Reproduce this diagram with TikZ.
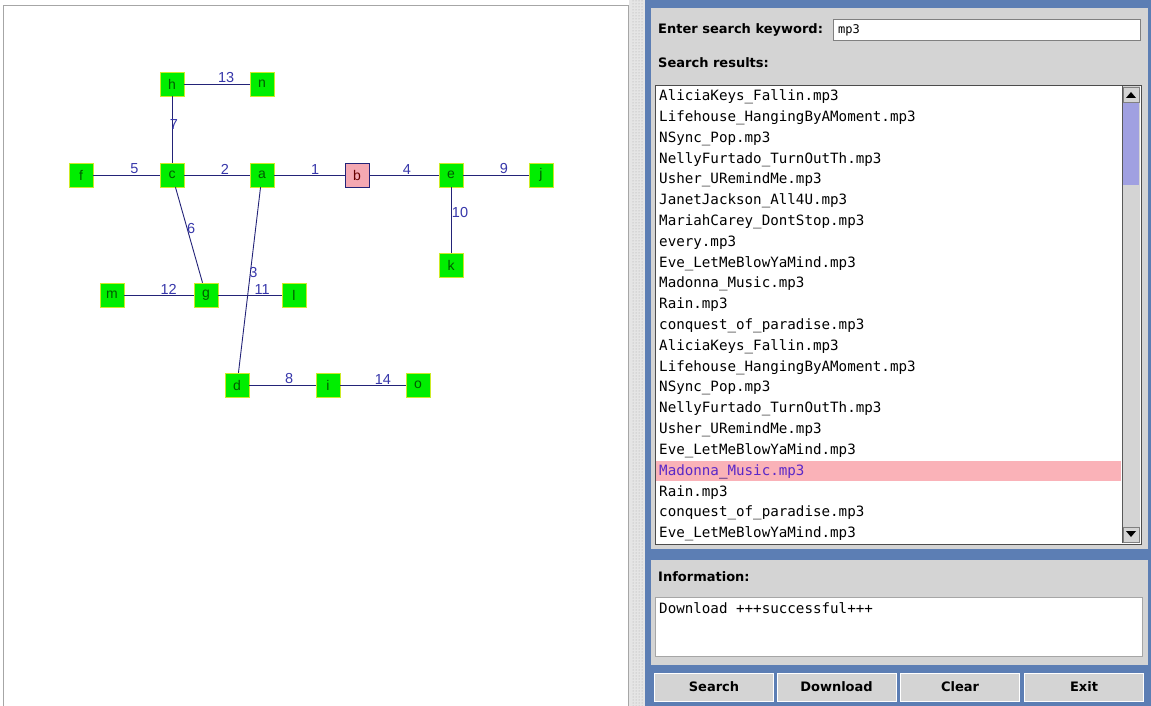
\documentclass[tikz,border=0pt]{standalone}
\usepackage{fontspec}
\setmainfont{DejaVu Sans}
\newfontfamily\listfont{DejaVu Sans Mono}
\newfontfamily\graphfont{Liberation Sans}
\usepackage{tikz}
\usetikzlibrary{positioning, patterns}

\definecolor{swingblue}{RGB}{92,126,180}
\definecolor{panelgray}{RGB}{212,212,212}
\definecolor{nodegreen}{RGB}{0,238,0}
\definecolor{greenrim}{RGB}{205,235,40}
\definecolor{pinkfill}{RGB}{244,168,178}
\definecolor{edgeblue}{RGB}{35,35,120}
\definecolor{weightblue}{RGB}{55,55,170}
\definecolor{selpink}{RGB}{250,178,184}
\definecolor{selfont}{RGB}{90,40,200}
\definecolor{thumbblue}{RGB}{160,160,225}

\begin{document}
\begin{tikzpicture}[x=1pt,y=-1pt,
    vertex/.style={draw=greenrim,fill=nodegreen,minimum size=24pt,inner sep=0pt,
        text=green!35!black,font=\graphfont\fontsize{14}{14}\selectfont},
    picked/.style={vertex,draw=edgeblue,fill=pinkfill,text=red!40!black},
    edge/.style={draw=edgeblue,line width=0.9pt},
    weight/.style={text=weightblue,inner sep=0.5pt,font=\graphfont\fontsize{14.5}{14.5}\selectfont},
    caption/.style={anchor=west,inner sep=0pt,font=\bfseries\fontsize{13}{13}\selectfont},
    entry/.style={anchor=west,inner sep=0pt,font=\listfont\fontsize{14.2}{14.2}\selectfont},
    button/.style={draw=white,fill=panelgray,minimum width=119pt,minimum height=28pt,
        inner sep=0pt,font=\bfseries\fontsize{13}{13}\selectfont}]
    \useasboundingbox (0,0) rectangle (1151,706);

    % left: the graph view
    \draw[gray!70,fill=white] (3,5) rectangle (628,707);
    \fill[gray!20] (629,0) rectangle (645,706);
    \fill[pattern=dots,pattern color=gray!70] (631,0) rectangle (644,706);

    \node[vertex] (h) at (172,84) {h};
    \node[vertex] (n) at (262,84) {n};
    \node[vertex] (f) at (81,175) {f};
    \node[vertex] (c) at (172,175) {c};
    \node[vertex] (a) at (262,175) {a};
    \node[picked] (b) at (357,175) {b};
    \node[vertex] (e) at (451,175) {e};
    \node[vertex] (j) at (541,175) {j};
    \node[vertex] (k) at (451,265) {k};
    \node[vertex] (m) at (112,295) {m};
    \node[vertex] (g) at (206,295) {g};
    \node[vertex] (l) at (294,295) {l};
    \node[vertex] (d) at (237,385) {d};
    \node[vertex] (i) at (328,385) {i};
    \node[vertex] (o) at (418,385) {o};

    \draw[edge] (h) -- node[weight,above,pos=0.64] (w13) {13} (n);
    \draw[edge] (h) -- node[weight,anchor=west,pos=0.42,xshift=-3pt] (w7) {7} (c);
    \draw[edge] (f) -- node[weight,above,pos=0.62] (w5) {5} (c);
    \draw[edge] (c) -- node[weight,above,pos=0.62] (w2) {2} (a);
    \draw[edge] (a) -- node[weight,above,pos=0.58] (w1) {1} (b);
    \draw[edge] (b) -- node[weight,above,pos=0.54] (w4) {4} (e);
    \draw[edge] (e) -- node[weight,above,pos=0.62] (w9) {9} (j);
    \draw[edge] (e) -- node[weight,anchor=west,pos=0.39] (w10) {10} (k);
    \draw[edge] (c) -- node[weight,anchor=west,pos=0.43,xshift=-1pt] (w6) {6} (g);
    \draw[edge] (a) -- node[weight,anchor=west,pos=0.46,xshift=-2pt] (w3) {3} (d);
    \draw[edge] (m) -- node[weight,above,pos=0.64] (w12) {12} (g);
    \draw[edge] (g) -- node[weight,above,pos=0.69] (w11) {11} (l);
    \draw[edge] (d) -- node[weight,above,pos=0.6] (w8) {8} (i);
    \draw[edge] (i) -- node[weight,above,pos=0.65] (w14) {14} (o);

    % right: the search panel
    \fill[swingblue] (645,0) rectangle (1151,706);
    \fill[panelgray] (651,8) rectangle (1148,549);
    \node[caption] (keylabel) at (658,30) {Enter search keyword:};
    \draw[gray,fill=white] (833,19) rectangle (1140,40);
    \node[entry,font=\listfont\fontsize{12}{12}\selectfont] (keyword) at (838,30) {mp3};
    \node[caption] (reslabel) at (658,63) {Search results:};

    \draw[gray!60!black,fill=white] (655,85) rectangle (1141,544);
    \fill[selpink] (656,461) rectangle (1121,481);
    \fill[panelgray] (1122,86) rectangle (1140,543);
    \draw[gray!70!black] (1122,86) -- (1122,543);
    \draw[gray,fill=panelgray] (1123,87) rectangle (1139,102);
    \fill[black] (1126,98) -- (1136,98) -- (1131,92) -- cycle;
    \fill[thumbblue] (1123,103) rectangle (1139,185);
    \draw[gray,fill=panelgray] (1123,527) rectangle (1139,542);
    \fill[black] (1126,531) -- (1136,531) -- (1131,537) -- cycle;

    \foreach \song [count=\r] in {AliciaKeys\_Fallin.mp3, Lifehouse\_HangingByAMoment.mp3,
        NSync\_Pop.mp3, NellyFurtado\_TurnOutTh.mp3, Usher\_URemindMe.mp3,
        JanetJackson\_All4U.mp3, MariahCarey\_DontStop.mp3, every.mp3,
        Eve\_LetMeBlowYaMind.mp3, Madonna\_Music.mp3, Rain.mp3,
        conquest\_of\_paradise.mp3, AliciaKeys\_Fallin.mp3,
        Lifehouse\_HangingByAMoment.mp3, NSync\_Pop.mp3,
        NellyFurtado\_TurnOutTh.mp3, Usher\_URemindMe.mp3,
        Eve\_LetMeBlowYaMind.mp3, Madonna\_Music.mp3, Rain.mp3,
        conquest\_of\_paradise.mp3, Eve\_LetMeBlowYaMind.mp3}
        \node[entry] (song\r) at (659,{97+(\r-1)*20.8}) {\song};
    \node[entry,text=selfont,fill=selpink] (chosen) at (659,471.4) {Madonna\_Music.mp3};

    \fill[panelgray] (651,560) rectangle (1148,665);
    \node[caption] (infolabel) at (658,577) {Information:};
    \draw[gray!70,fill=white] (655,597) rectangle (1142,656);
    \node[entry] (status) at (659,608) {Download +++successful+++};

    \node[button] (search) at (714,687) {Search};
    \node[button] (download) at (836.5,687) {Download};
    \node[button] (clear) at (960,687) {Clear};
    \node[button] (exit) at (1084,687) {Exit};
\end{tikzpicture}
\end{document}
